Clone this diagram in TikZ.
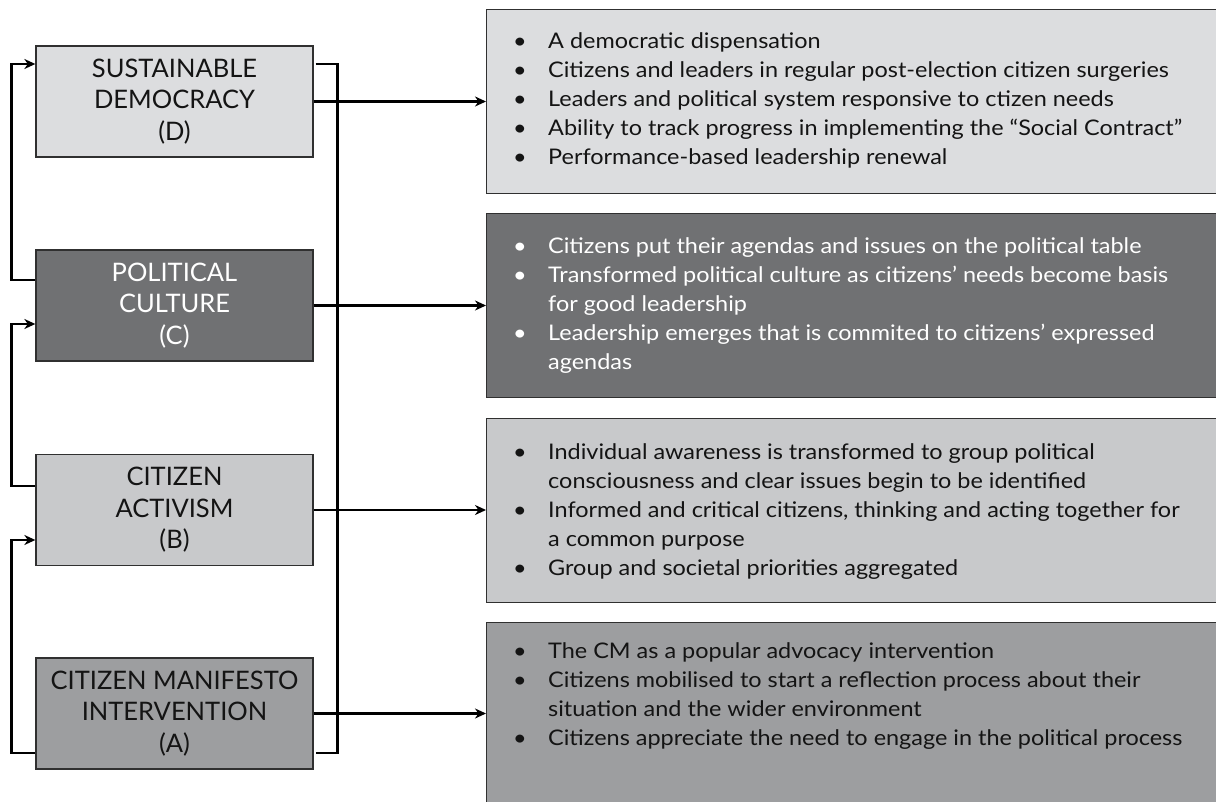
\documentclass[tikz,border=0pt]{standalone}
\usepackage{fontspec}
\setmainfont{Lato}
\newfontfamily\wide{Lato}[FakeStretch=1.09]
\usetikzlibrary{arrows.meta,calc}
\definecolor{dfill}{HTML}{DCDDDF}
\definecolor{cfill}{HTML}{707173}
\definecolor{bfill}{HTML}{C8C9CB}
\definecolor{afill}{HTML}{9D9EA0}
\definecolor{edgec}{HTML}{303030}
\definecolor{ink}{HTML}{141414}
\newcommand{\bl}{\textbullet}
\begin{document}
\begin{tikzpicture}[x=1pt,y=-1pt,
  lbox/.style={draw=edgec,line width=1.3pt,minimum width=277pt,minimum height=111pt,
    align=center,inner sep=0pt,text=ink,font=\fontsize{25.5}{31.5}\selectfont},
  rbox/.style={draw=edgec,line width=1.3pt,inner sep=0pt,anchor=north west,
    minimum width=740pt,minimum height=184pt},
  conn/.style={line width=2.4pt,black},
  arr/.style={conn,-{Stealth[length=11pt,width=10pt,inset=3.5pt]}},
  btext/.style={anchor=base west,inner sep=0pt,text=ink,font=\wide\fontsize{21.5}{29}\selectfont}
]
\useasboundingbox (0,0) rectangle (1216,802);
\clip (0,0) rectangle (1216,802);
\fill[white] (0,0) rectangle (1216,802);

% left boxes
\node[lbox,fill=dfill] (D) at (174.5,101.5) {SUSTAINABLE\\DEMOCRACY\\(D)};
\node[lbox,fill=cfill,text=white] (C) at (174.5,305.5) {POLITICAL\\CULTURE\\(C)};
\node[lbox,fill=bfill] (B) at (174.5,510) {CITIZEN\\ACTIVISM\\(B)};
\node[lbox,fill=afill] (A) at (174.5,713.5) {CITIZEN MANIFESTO\\INTERVENTION\\(A)};

% right boxes
\node[rbox,fill=dfill] (rD) at (486,9) {};
\node[rbox,fill=cfill] (rC) at (486,213) {};
\node[rbox,fill=bfill] (rB) at (486,418) {};
\node[rbox,fill=afill,minimum height=200pt] (rA) at (486,622) {};

% texts
\node[btext] (tD) at (513,49) {\begin{tabular}[t]{@{}p{35pt}@{}l@{}}
\bl & A democratic dispensation\\
\bl & Citizens and leaders in regular post-election citizen surgeries\\
\bl & Leaders and political system responsive to ctizen needs\\
\bl & Ability to track progress in implementing the “Social Contract”\\
\bl & Performance-based leadership renewal
\end{tabular}};
\node[btext,text=white] (tC) at (513,254) {\begin{tabular}[t]{@{}p{35pt}@{}l@{}}
\bl & Citizens put their agendas and issues on the political table\\
\bl & Transformed political culture as citizens’ needs become basis\\
    & for good leadership\\
\bl & Leadership emerges that is commited to citizens’ expressed\\
    & agendas
\end{tabular}};
\node[btext] (tB) at (513,459) {\begin{tabular}[t]{@{}p{35pt}@{}l@{}}
\bl & Individual awareness is transformed to group political\\
    & consciousness and clear issues begin to be identified\\
\bl & Informed and critical citizens, thinking and acting together for\\
    & a common purpose\\
\bl & Group and societal priorities aggregated
\end{tabular}};
\node[btext] (tA) at (513,658) {\begin{tabular}[t]{@{}p{35pt}@{}l@{}}
\bl & The CM as a popular advocacy intervention\\
\bl & Citizens mobilised to start a reflection process about their\\
    & situation and the wider environment\\
\bl & Citizens appreciate the need to engage in the political process
\end{tabular}};

% horizontal arrows
\draw[arr] (D.east) -- (D.east -| rD.west);
\draw[arr] (C.east) -- (C.east -| rC.west);
\draw[arr] (B.east) -- (B.east -| rB.west);
\draw[arr] (A.east) -- (A.east -| rA.west);

% left feedback loops
\draw[arr] ([yshift=25.5pt]C.west) -- ++(-24,0) |- ([yshift=37.5pt]D.west);
\draw[arr] ([yshift=24pt]B.west) -- ++(-24,0) |- ([yshift=-18.5pt]C.west);
\draw[arr] ([yshift=-39.5pt]A.west) -- ++(-24,0) |- ([yshift=-30pt]B.west);

% right bus
\draw[conn] ([yshift=37.5pt,xshift=2pt]D.east) -- ++(22,0) |- ([yshift=-39.5pt,xshift=2pt]A.east);
\end{tikzpicture}
\end{document}
